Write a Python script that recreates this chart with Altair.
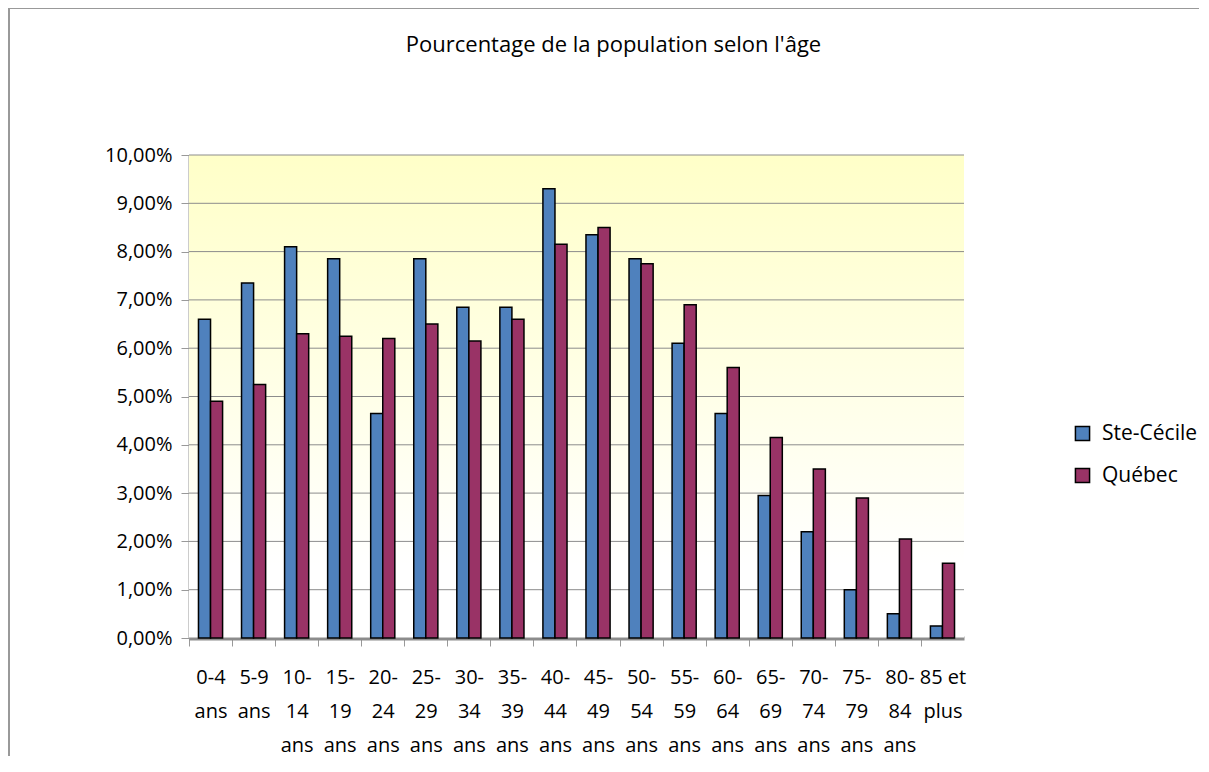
import altair as alt
import pandas as pd

FONT = "Open Sans"

# Age groups (tick labels, '|' marks a line break)
age_groups = ["0-4|ans", "5-9|ans", "10-|14|ans", "15-|19|ans", "20-|24|ans", "25-|29|ans",
              "30-|34|ans", "35-|39|ans", "40-|44|ans", "45-|49|ans", "50-|54|ans", "55-|59|ans",
              "60-|64|ans", "65-|69|ans", "70-|74|ans", "75-|79|ans", "80-|84|ans", "85 et|plus"]

series = ["Ste-Cécile", "Québec"]
colors = ["#4F81BD", "#993366"]

ste_cecile = [6.6, 7.35, 8.1, 7.85, 4.65, 7.85, 6.85, 6.85, 9.3, 8.35, 7.85, 6.1, 4.65, 2.95, 2.2, 1.0, 0.5, 0.25]
quebec = [4.9, 5.25, 6.3, 6.25, 6.2, 6.5, 6.15, 6.6, 8.15, 8.5, 7.75, 6.9, 5.6, 4.15, 3.5, 2.9, 2.05, 1.55]

y_ticks = [0, 1, 2, 3, 4, 5, 6, 7, 8, 9, 10]

W, H = 775, 483

df = pd.DataFrame({
    "age": age_groups * 2,
    "series": [series[0]] * len(age_groups) + [series[1]] * len(age_groups),
    "pct": ste_cecile + quebec,
})
grid_df = pd.DataFrame({"pct": y_ticks})

gradient = alt.LinearGradient(
    gradient="linear",
    stops=[alt.GradientStop(offset=0, color="#FFFFC8"),
           alt.GradientStop(offset=0.85, color="#FFFFFF")],
    x1=0, x2=0, y1=0, y2=1,
)

y_scale = alt.Scale(domain=[0, 10], nice=False)

background = alt.Chart(pd.DataFrame({"bg": [0]})).mark_rect(fill=gradient).encode(
    x=alt.value(0), x2=alt.value(W), y=alt.value(0), y2=alt.value(H)
)

border = alt.Chart(pd.DataFrame({"b": [0]})).mark_rule(color="#999999", strokeWidth=2).encode(
    x=alt.value(-180), y=alt.value(-147), y2=alt.value(H + 200)
)
border_top = alt.Chart(pd.DataFrame({"b": [0]})).mark_rule(color="#999999", strokeWidth=2).encode(
    x=alt.value(-181), x2=alt.value(W + 300), y=alt.value(-147)
)

grid = alt.Chart(grid_df).mark_rule(color="#8C8C8C", strokeWidth=1).encode(
    y=alt.Y("pct:Q", scale=y_scale)
)

bars = alt.Chart(df).mark_bar(stroke="black", strokeWidth=1.5).encode(
    x=alt.X("age:N", sort=age_groups,
            scale=alt.Scale(paddingInner=0.44, paddingOuter=0.22),
            axis=alt.Axis(title=None, labelExpr="split(datum.value, '|')", labelAngle=0,
                          labelFontSize=20, labelFont=FONT, labelColor="black",
                          labelLineHeight=34, labelBaseline="top", labelPadding=21,
                          labelOverlap=False, tickSize=8, tickColor="#999999",
                          domainColor="#8C8C8C", domainWidth=4, bandPosition=0,
                          tickOffset=-9.5, labelOffset=9.5)),
    xOffset=alt.XOffset("series:N", sort=series, scale=alt.Scale(paddingInner=0, paddingOuter=0)),
    y=alt.Y("pct:Q", scale=y_scale,
            axis=alt.Axis(title=None, values=y_ticks, grid=False,
                          labelExpr="replace(format(datum.value, '.2f'), '.', ',') + '%'",
                          labelFontSize=20, labelFont=FONT, labelColor="black",
                          labelPadding=9, tickSize=8, tickColor="#999999",
                          domainColor="#999999", domainWidth=2)),
    color=alt.Color("series:N", sort=series,
                    scale=alt.Scale(domain=series, range=colors),
                    legend=alt.Legend(title=None, orient="none", legendX=883, legendY=268,
                                      labelFontSize=21, labelFont=FONT, labelColor="black",
                                      symbolType="square", symbolSize=200,
                                      symbolStrokeColor="black", symbolStrokeWidth=1.5,
                                      rowPadding=20, labelOffset=9)),
)

chart = alt.layer(background, border, border_top, grid, bars).properties(
    width=W, height=H,
    padding={"left": 181, "top": 147, "right": 235, "bottom": 118},
    autosize=alt.AutoSizeParams(type="none"),
    title=alt.Title("Pourcentage de la population selon l'âge", fontSize=22, font=FONT,
                    fontWeight="normal", anchor="middle", offset=-50, dx=37, color="black"),
).configure_view(stroke="transparent")

chart.save("out.html", embed_options={"renderer": "svg", "actions": False})
